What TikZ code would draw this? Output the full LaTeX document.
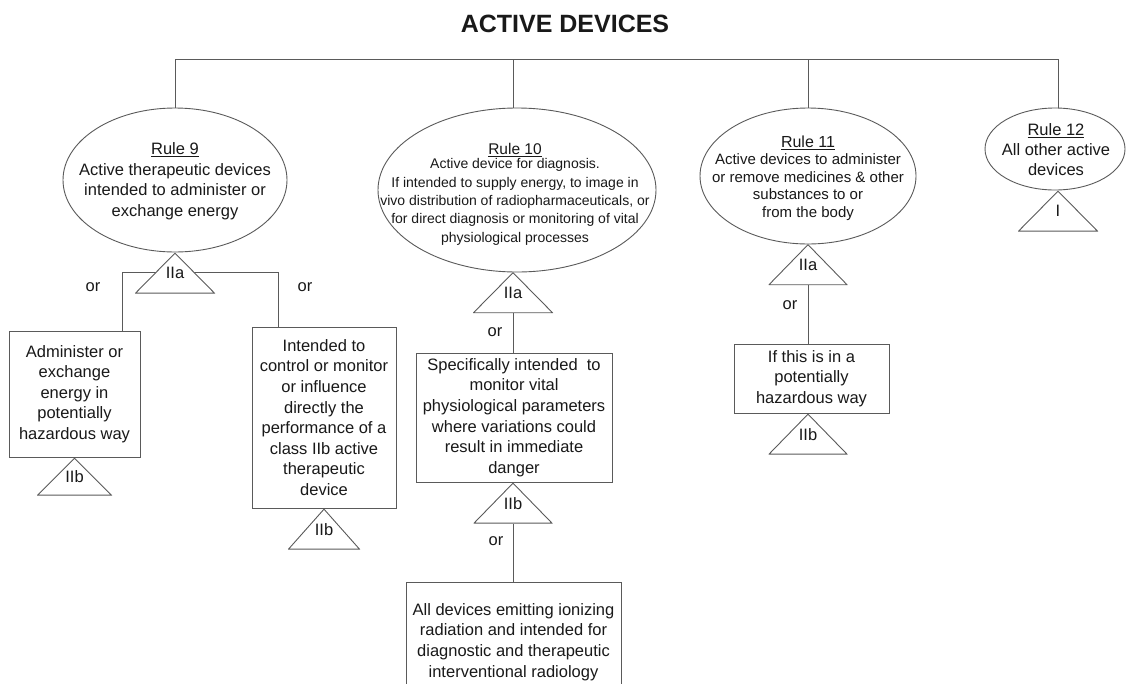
\documentclass[tikz,border=0pt]{standalone}
\usepackage{fontspec}
\setmainfont{Liberation Sans}
\usetikzlibrary{shapes.geometric}
\definecolor{linec}{RGB}{90,90,90}
\definecolor{txt}{RGB}{25,25,25}
\pgfdeclarelayer{background}
\pgfsetlayers{background,main}
\begin{document}
\begin{tikzpicture}[x=1pt,y=-1pt,
  every node/.style={text=txt},
  conn/.style={draw=linec, line width=0.9pt},
  ell/.style={draw=linec, line width=0.9pt, ellipse, inner sep=0pt, fill=white},
  etext/.style={align=center, inner sep=0pt, font=\fontsize{16.5}{20.5}\selectfont},
  stext/.style={align=center, inner sep=0pt, font=\fontsize{14}{18.3}\selectfont},
  box/.style={draw=linec, line width=0.9pt, rectangle, align=center, inner sep=0pt, fill=white, font=\fontsize{16.5}{20.6}\selectfont},
  tri/.style={rectangle, minimum width=80pt, minimum height=41pt, inner sep=0pt, anchor=north,
    font=\fontsize{16.5}{18}\selectfont,
    path picture={\draw[linec, line width=0.9pt, fill=white]
      ([yshift=-0.5pt]path picture bounding box.north)
      -- ([shift={(0.5pt,0.5pt)}]path picture bounding box.south west)
      -- ([shift={(-0.5pt,0.5pt)}]path picture bounding box.south east) -- cycle;}},
  ortext/.style={font=\fontsize{16.5}{18}\selectfont, inner sep=0pt},
]
\useasboundingbox (0,0) rectangle (1126,683);
\clip (0,0) rectangle (1126,683);

% title
\node[font=\fontsize{25}{30}\selectfont\bfseries, inner sep=0pt] (title) at (565,24) {ACTIVE DEVICES};

% bus coordinates
\coordinate (bus9) at (175,59);
\coordinate (bus10) at (513,59);
\coordinate (bus11) at (808,59);
\coordinate (bus12) at (1058,59);

% Rule ellipses
\node[ell, minimum width=224pt, minimum height=144pt] (r9) at (175,180) {};
\node[etext] (r9t) at (175,181) {\underline{Rule 9}\\Active therapeutic devices\\intended to administer or\\exchange energy};

\node[ell, minimum width=278pt, minimum height=164pt] (r10) at (517,190) {};
\node[stext] (r10t) at (515,194) {{\fontsize{15.5}{18}\selectfont\underline{Rule 10}}\\[-3.5pt]Active device for diagnosis.\\If intended to supply energy, to image in\\vivo distribution of radiopharmaceuticals, or\\for direct diagnosis or monitoring of vital\\physiological processes};

\node[ell, minimum width=216pt, minimum height=136pt] (r11) at (808,176) {};
\node[stext, font=\fontsize{15}{17.5}\selectfont] (r11t) at (808,178) {{\fontsize{16}{18}\selectfont\underline{Rule 11}}\\Active devices to administer\\or remove medicines \& other\\substances to or\\from the body};

\node[ell, minimum width=140pt, minimum height=82pt] (r12) at (1055,149) {};
\node[etext, font=\fontsize{16.5}{20}\selectfont] (r12t) at (1056,150) {\underline{Rule 12}\\All other active\\devices};

% Rule 9 branch
\node[tri] (t9) at (r9.south) {IIa};
\coordinate (j9l) at (122,272);
\coordinate (j9r) at (278,272);
\node[ortext] (or9l) at (93,287) {or};
\node[ortext] (or9r) at (305,287) {or};
\node[box, minimum width=131pt, minimum height=126pt] (b9a) at (74.5,394) {Administer or\\exchange\\energy in\\potentially\\hazardous way};
\node[box, minimum width=144pt, minimum height=181pt] (b9b) at (324,417.5) {Intended to\\control or monitor\\or influence\\directly the\\performance of a\\class IIb active\\therapeutic\\device};
\node[tri, minimum width=75pt, minimum height=38pt] (t9a) at (b9a.south) {IIb};
\node[tri, minimum width=72pt, minimum height=41pt] (t9b) at (b9b.south) {IIb};

% Rule 10 branch
\node[tri] (t10a) at (513,272) {IIa};
\node[box, minimum width=196pt, minimum height=129pt] (b10a) at (514,417.5) {Specifically intended\ \ to\\monitor vital\\physiological parameters\\where variations could\\result in immediate\\danger};
\node[ortext] (or10a) at (495,332) {or};
\node[tri, minimum width=79pt] (t10b) at (t10a.south |- b10a.south) {IIb};
\node[ortext] (or10b) at (496,541) {or};
\node[box, minimum width=215pt, minimum height=120pt] (b10b) at (513.5,642) {All devices emitting ionizing\\radiation and intended for\\diagnostic and therapeutic\\interventional radiology};

% Rule 11 branch
\node[tri, minimum width=79pt] (t11a) at (808,244) {IIa};
\node[ortext] (or11) at (790,305) {or};
\node[box, minimum width=155pt, minimum height=69pt] (b11) at (811.5,378.5) {If this is in a\\potentially\\hazardous way};
\node[tri, minimum width=79pt] (t11b) at (t11a.south |- b11.south) {IIb};

% Rule 12
\node[tri, minimum width=80pt] (t12) at (bus12 |- r12.south) {I};

% connectors
\begin{pgfonlayer}{background}
\draw[conn] (bus9) -- (bus12);
\draw[conn] (bus9) -- (r9.north);
\draw[conn] (bus10) -- (bus10 |- r10.north);
\draw[conn] (bus11) -- (r11.north);
\draw[conn] (bus12) -- (bus12 |- r12.north);
\draw[conn] (j9l) -- (j9r);
\draw[conn] (j9l) -- (j9l |- b9a.north);
\draw[conn] (j9r) -- (j9r |- b9b.north);
\draw[conn] (t10a.south) -- (t10a.south |- b10a.north);
\draw[conn] (t10b.south) -- (t10b.south |- b10b.north);
\draw[conn] (t11a.south) -- (t11a.south |- b11.north);
\end{pgfonlayer}
\end{tikzpicture}
\end{document}
